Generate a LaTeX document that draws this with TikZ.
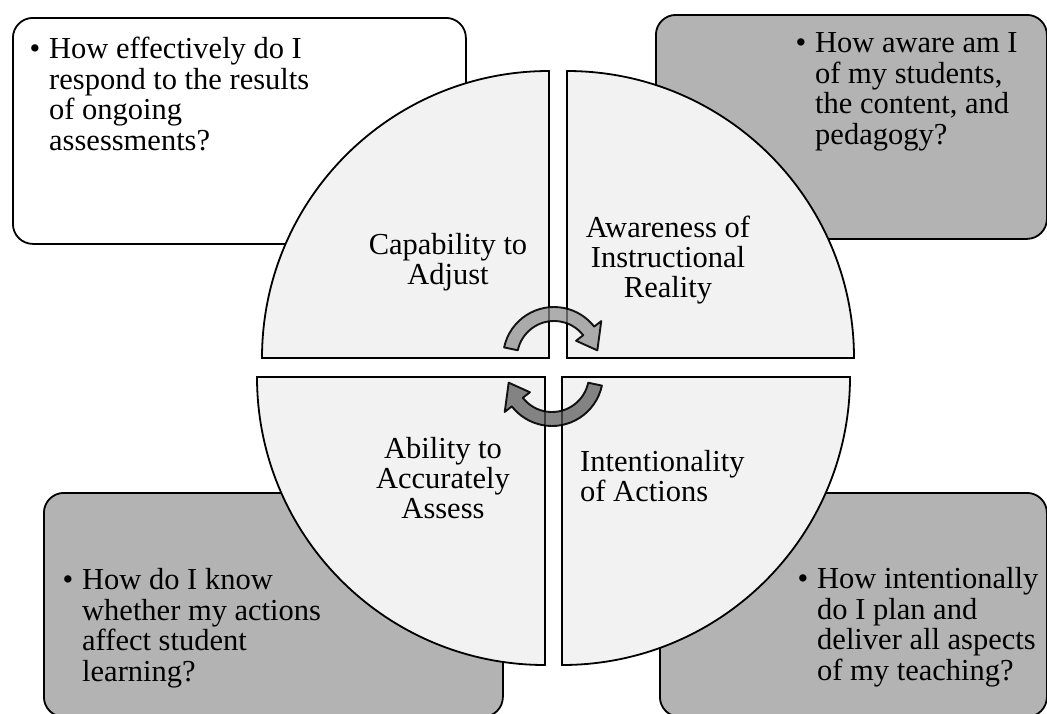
\documentclass[tikz,border=0pt]{standalone}
\usepackage{fontspec}
\setmainfont{Liberation Serif}
\definecolor{quadfill}{RGB}{242,242,242}
\definecolor{boxgray}{RGB}{179,179,179}
\definecolor{arrowlight}{RGB}{140,140,140}
\definecolor{arrowdark}{RGB}{85,85,85}
\begin{document}
\begin{tikzpicture}[x=1pt,y=1pt,
  qbox/.style={draw=black, line width=1.8pt, rounded corners=20pt, anchor=north west, inner sep=0pt},
  quad/.style={draw=black, line width=1.8pt, fill=quadfill},
  btext/.style={anchor=base west, align=left, inner sep=0pt, font=\fontsize{30.5}{30.5}\selectfont},
  qlabel/.style={anchor=base, align=center, inner sep=0pt, font=\fontsize{30.5}{30}\selectfont},
  cyc/.style={draw=black, line width=1.9pt, line join=round, fill opacity=0.7, draw opacity=0.9}
]
\clip (0,0) rectangle (1047,-713);
\useasboundingbox (0,0) rectangle (1047,-713);
\fill[white] (0,0) rectangle (1047,-713);

% outer question boxes
\node[qbox, fill=white, minimum width=453pt, minimum height=226pt] (boxTL) at (12,-17) {};
\node[qbox, fill=boxgray, minimum width=391pt, minimum height=224pt] (boxTR) at (655,-14) {};
\node[qbox, fill=boxgray, minimum width=459pt, minimum height=224pt] (boxBL) at (43,-492) {};
\node[qbox, fill=boxgray, minimum width=387pt, minimum height=224pt] (boxBR) at (659,-492) {};

% (base anchor of a multi-line node = baseline of its last line)
\node[btext] (tTL) at (49,-150) {\llap{•\hspace{9pt}}How effectively do I\\respond to the results\\of ongoing\\assessments?};
\node[btext] (tTR) at (815,-144) {\llap{•\hspace{9pt}}How aware am I\\of my students,\\the content, and\\pedagogy?};
\node[btext] (tBL) at (82,-681) {\llap{•\hspace{9pt}}How do I know\\whether my actions\\affect student\\learning?};
\node[btext] (tBR) at (817,-680) {\llap{•\hspace{9pt}}How intentionally\\do I plan and\\deliver all aspects\\of my teaching?};

% quadrants
\path[quad] (549,-358) -- (262,-358) arc[start angle=180, end angle=90, radius=287] -- cycle;
\path[quad] (567,-358) -- (567,-71) arc[start angle=90, end angle=0, radius=287] -- cycle;
\path[quad] (545,-377) -- (545,-665) arc[start angle=270, end angle=180, radius=288] -- cycle;
\path[quad] (562,-377) -- (850,-377) arc[start angle=0, end angle=-90, radius=288] -- cycle;

% quadrant labels
\node[qlabel] (qTL) at (448,-284) {Capability to\\Adjust};
\node[qlabel] (qTR) at (668,-297) {Awareness of\\Instructional\\Reality};
\node[qlabel] (qBL) at (443,-518) {Ability to\\Accurately\\Assess};
\node[qlabel, anchor=base west, align=left] (qBR) at (580,-501) {Intentionality\\of Actions};

% cycle arrows
\path[cyc, fill=arrowlight]
  ([shift={(554,-358)}]168:51) arc[start angle=168, end angle=38, radius=51]
  -- ([shift={(554,-358)}]38:60)
  -- ([shift={(554,-358)}]10:44)
  -- ([shift={(554,-358)}]38:28)
  -- ([shift={(554,-358)}]38:37) arc[start angle=38, end angle=168, radius=37]
  -- cycle;
\path[cyc, fill=arrowdark]
  ([shift={(552,-375)}]-12:51) arc[start angle=-12, end angle=-142, radius=51]
  -- ([shift={(552,-375)}]-142:60)
  -- ([shift={(552,-375)}]-170:44)
  -- ([shift={(552,-375)}]-142:28)
  -- ([shift={(552,-375)}]-142:37) arc[start angle=-142, end angle=-12, radius=37]
  -- cycle;
\end{tikzpicture}
\end{document}
